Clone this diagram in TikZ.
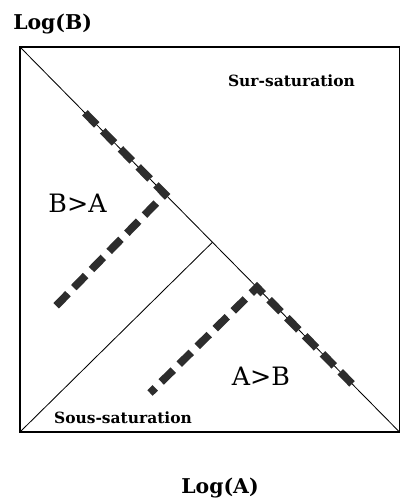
\documentclass[tikz,border=0pt]{standalone}
\usepackage{fontspec}
\setmainfont{DejaVu Serif}
\usepackage{tikz}
\usetikzlibrary{calc}
\definecolor{darkgrey}{RGB}{45, 45, 45}
\tikzset{
    frame/.style = {draw=black, line width=0.9pt},
    thinline/.style = {draw=black, line width=0.6pt},
    bigdash/.style = {draw=darkgrey, line width=5.5pt, dash pattern=on 12pt off 6pt},
    axislabel/.style = {inner sep=0pt, font=\bfseries\fontsize{14.5}{17}\selectfont},
    zonelabel/.style = {inner sep=0pt, font=\bfseries\fontsize{11}{13}\selectfont},
    ratiolabel/.style = {inner sep=0pt, font=\fontsize{18}{20}\selectfont}
}

\begin{document}
\begin{tikzpicture}[x=0.025cm, y=-0.025cm]
\useasboundingbox (0,0) rectangle (400,500);
% Corners
\coordinate (TL) at (20,47);
\coordinate (TR) at (399.5,47);
\coordinate (BL) at (20,432);
\coordinate (BR) at (399.5,432);
\coordinate (apex) at ($(TL)!(BL)!(BR)$);

% Frame and lines
\draw [frame] (TL) -- (TR) -- (BR) -- (BL) -- cycle;
\draw [thinline] (TL) -- (BR);
\draw [thinline] (BL) -- (apex);

% Thick dashes
\coordinate (d1a) at ($(TL)!0.171!(BR)$);
\coordinate (d1b) at ($(TL)!0.382!(BR)$);
\coordinate (e1) at (55,307);
\coordinate (d2a) at ($(TL)!0.6245!(BR)$);
\coordinate (d2b) at ($(TL)!0.875!(BR)$);
\coordinate (e2) at (150,393);
\draw [bigdash] (d1a) -- (d1b) -- (e1);
\draw [bigdash] (d2b) -- (d2a) -- (e2);

% Labels
\node (logB) [axislabel, anchor=base west] at (13,29) {Log(B)};
\node (logA) [axislabel, anchor=base] at (220,493) {Log(A)};
\node (sur) [zonelabel, anchor=base] at (291.5,86) {Sur-saturation};
\node (sous) [zonelabel, anchor=base] at (123,423) {Sous-saturation};
\node (BA) [ratiolabel, anchor=base] at (77.5,212) {B>A};
\node (AB) [ratiolabel, anchor=base] at (261,385) {A>B};

\end{tikzpicture}
\end{document}
